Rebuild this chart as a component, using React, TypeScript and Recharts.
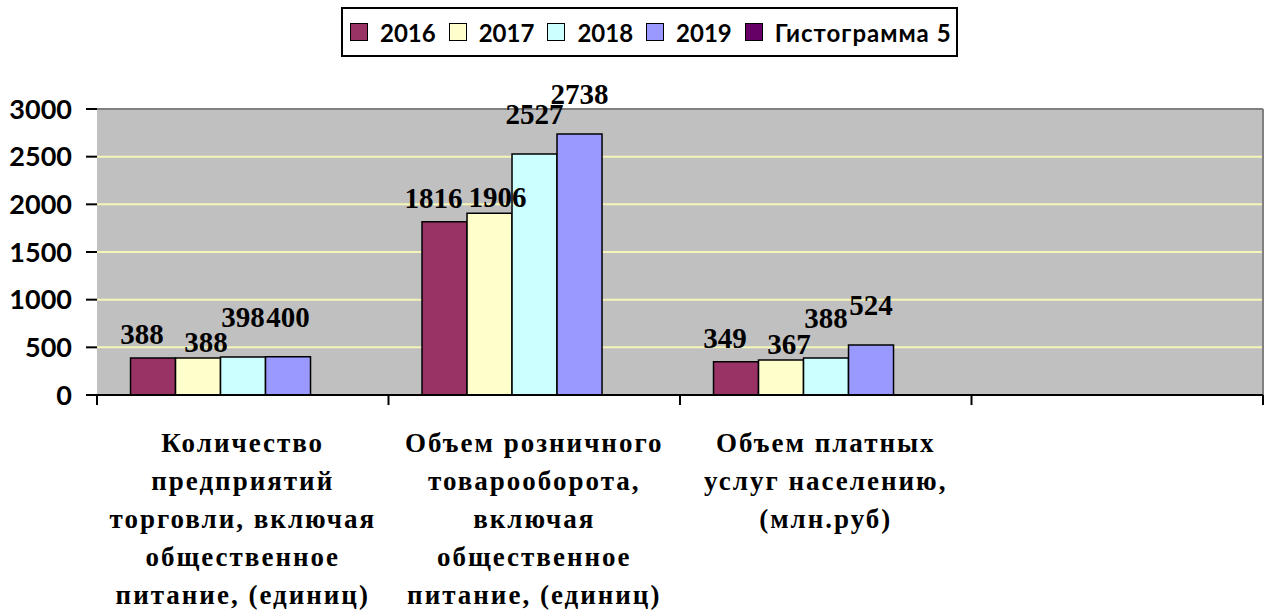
import React from 'react';
import { BarChart, Bar, XAxis, YAxis, CartesianGrid, Legend, LabelList } from 'recharts';

const categories = [
  'Количество\nпредприятий\nторговли, включая\nобщественное\nпитание, (единиц)',
  'Объем розничного\nтоварооборота,\nвключая\nобщественное\nпитание, (единиц)',
  'Объем платных\nуслуг населению,\n(млн.руб)',
  ' ',
];
const values2016 = [388, 1816, 349, null];
const values2017 = [388, 1906, 367, null];
const values2018 = [398, 2527, 388, null];
const values2019 = [400, 2738, 524, null];
const values5 = [null, null, null, null];
const seriesKeys = ['s2016', 's2017', 's2018', 's2019', 's5'];
const seriesNames = ['2016', '2017', '2018', '2019', 'Гистограмма 5'];
const yTicks = [0, 500, 1000, 1500, 2000, 2500, 3000];
const gridValues = [500, 1000, 1500, 2000, 2500];

const colors = ['#993366', '#FFFFCC', '#CCFFFF', '#9999FF', '#660066'];
const labelLift = [24, 16, 40, 40, 0];
const labelShift = [-11, 8, 0, 0, 0];

const data = categories.map((name, i) => ({
  name,
  s2016: values2016[i],
  s2017: values2017[i],
  s2018: values2018[i],
  s2019: values2019[i],
  s5: values5[i],
}));

const W = 1266;
const H = 611;
const Y_AXIS_W = 97;
const RIGHT = 3;
const PLOT_W = W - Y_AXIS_W - RIGHT;
const BAND = PLOT_W / categories.length;

const serif = '"Liberation Serif", "Times New Roman", serif';
const sans = 'Lato, "Noto Sans", sans-serif';

const XTick = (props: any) => {
  const { x, y, payload, index } = props;
  const half = BAND / 2;
  const lines = String(payload.value).split('\n');
  return (
    <g>
      <line x1={x - half} x2={x - half} y1={y} y2={y + 10} stroke="#000" strokeWidth={2} />
      {index === categories.length - 1 && (
        <line x1={x + half} x2={x + half} y1={y} y2={y + 10} stroke="#000" strokeWidth={2} />
      )}
      <text textAnchor="middle" fontFamily={serif} fontWeight={700} fontSize={27} fill="#000" letterSpacing={2}>
        {lines.map((l, i) => (
          <tspan key={i} x={x} y={y + 57 + i * 38}>
            {l}
          </tspan>
        ))}
      </text>
    </g>
  );
};

const makeLabel = (si: number) => (props: any) => {
  const { x, y, width, value } = props;
  if (value === null || value === undefined) return null;
  return (
    <text
      x={x + width / 2 + labelShift[si]}
      y={y - labelLift[si]}
      dy="0.35em"
      textAnchor="middle"
      fontFamily={serif}
      fontWeight={700}
      fontSize={29}
      fill="#000"
    >
      {value}
    </text>
  );
};

const renderLegend = () => (
  <div
    style={{
      border: '2px solid #000',
      boxSizing: 'border-box',
      height: 50,
      display: 'flex',
      alignItems: 'center',
      paddingLeft: 7,
      background: '#fff',
      fontFamily: sans,
      fontWeight: 700,
      fontSize: 24,
      color: '#000',
      whiteSpace: 'nowrap',
      overflow: 'visible',
    }}
  >
    {seriesNames.map((n, i) => (
      <span
        key={n}
        style={{
          display: 'flex',
          alignItems: 'center',
          flexShrink: 0,
          marginRight: i < seriesNames.length - 1 ? 13 : 0,
        }}
      >
        <span
          style={{
            display: 'inline-block',
            flexShrink: 0,
            boxSizing: 'border-box',
            width: 18,
            height: 18,
            background: colors[i],
            border: '1.5px solid #000',
            marginRight: 12,
          }}
        />
        <span style={{ letterSpacing: i === seriesNames.length - 1 ? 1 : 0 }}>{n}</span>
      </span>
    ))}
  </div>
);

export default function App() {
  return (
    <div style={{ position: 'absolute', left: 0, top: 0, width: W, height: H, background: '#fff' }}>
      <BarChart
        width={W}
        height={H}
        data={data}
        margin={{ top: 109, right: RIGHT, left: 0, bottom: 0 }}
        barCategoryGap="11.5%"
        barGap={0}
      >
        <CartesianGrid
          vertical={false}
          fill="#C0C0C0"
          fillOpacity={1}
          stroke="#F5F5B8"
          strokeWidth={2}
          horizontalValues={gridValues}
        />
        <CartesianGrid
          stroke="#808080"
          strokeWidth={2}
          horizontalCoordinatesGenerator={({ offset }: any) => [offset.top]}
          verticalCoordinatesGenerator={({ offset }: any) => [offset.left + offset.width]}
        />
        <XAxis
          dataKey="name"
          height={216}
          interval={0}
          tickSize={0}
          tickMargin={0}
          tickLine={false}
          axisLine={{ stroke: '#000', strokeWidth: 2 }}
          tick={<XTick />}
        />
        <YAxis
          width={Y_AXIS_W}
          domain={[0, 3000]}
          ticks={yTicks}
          interval={0}
          axisLine={false}
          tickSize={11}
          tickMargin={14}
          tickLine={{ stroke: '#000', strokeWidth: 2 }}
          tick={{ fill: '#000', fontFamily: sans, fontWeight: 700, fontSize: 27 }}
        />
        <Legend
          layout="horizontal"
          verticalAlign="middle"
          align="center"
          content={renderLegend}
          wrapperStyle={{ top: 7, left: 341, width: 617, height: 50 }}
        />
        {seriesKeys.map((k, i) => (
          <Bar
            key={k}
            dataKey={k}
            name={seriesNames[i]}
            fill={colors[i]}
            stroke="#000"
            strokeWidth={1.5}
            isAnimationActive={false}
          >
            <LabelList dataKey={k} content={makeLabel(i)} />
          </Bar>
        ))}
      </BarChart>
    </div>
  );
}
